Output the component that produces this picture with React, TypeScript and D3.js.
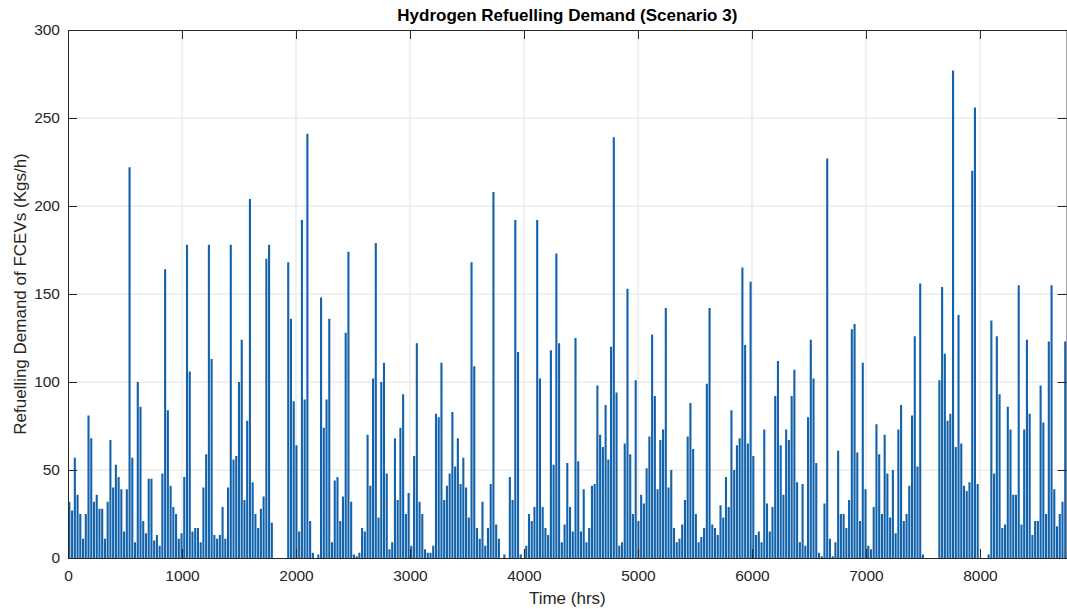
import React, { useEffect, useRef } from 'react';
import * as d3 from 'd3';

// daily peak refuelling demand (Kgs/h), one value per day
const jan = [32, 27, 57, 36, 25, 11, 25, 81, 68, 32, 36, 28, 28, 11, 32, 67, 40, 53, 46, 39, 15, 39, 222, 57, 9, 100, 86, 21, 14, 45, 45];
const feb = [10, 13, 7, 48, 164, 84, 41, 29, 25, 11, 14, 46, 178, 106, 15, 17, 17, 9, 40, 59, 178, 113, 13, 11, 13, 29, 11, 40];
const mar = [178, 56, 58, 100, 124, 33, 78, 204, 43, 25, 17, 28, 35, 170, 178, 20, 0, 0, 0, 0, 0, 168, 136, 89, 64, 15, 192, 90, 241, 21, 3];
const apr = [0, 2, 148, 74, 90, 136, 9, 44, 46, 21, 35, 128, 174, 32, 2, 1, 3, 17, 15, 70, 41, 102, 179, 23, 100, 111, 48, 5, 9, 68];
const may = [33, 74, 93, 25, 37, 7, 58, 122, 32, 25, 5, 3, 3, 7, 82, 80, 111, 33, 41, 48, 83, 52, 68, 42, 57, 40, 23, 168, 109, 17, 11];
const jun = [32, 7, 17, 42, 208, 19, 11, 0, 2, 0, 46, 33, 192, 117, 2, 0, 7, 25, 21, 29, 192, 102, 29, 17, 13, 118, 53, 173, 122, 9];
const jul = [19, 54, 29, 15, 125, 55, 15, 39, 9, 17, 41, 42, 98, 70, 63, 87, 56, 120, 239, 94, 7, 9, 65, 153, 59, 25, 101, 21, 36, 31, 51];
const aug = [69, 127, 92, 39, 67, 73, 142, 40, 50, 17, 9, 11, 19, 33, 69, 88, 62, 25, 9, 12, 17, 99, 142, 19, 17, 13, 30, 23, 46, 29, 84];
const sep = [50, 64, 68, 165, 121, 65, 157, 58, 13, 15, 9, 73, 31, 15, 29, 92, 112, 64, 36, 73, 67, 92, 107, 43, 9, 42, 7, 80, 124, 102];
const oct = [54, 3, 1, 31, 227, 11, 1, 9, 61, 25, 25, 17, 33, 130, 133, 60, 21, 111, 39, 7, 5, 29, 76, 59, 25, 70, 48, 23, 50, 14, 73];
const nov = [87, 21, 25, 41, 81, 126, 52, 156, 2, 0, 0, 0, 0, 0, 101, 154, 116, 78, 82, 277, 63, 138, 65, 41, 38, 43, 220, 256, 42, 0];
const dec = [0, 0, 2, 135, 48, 126, 93, 17, 19, 86, 73, 36, 36, 155, 19, 73, 124, 82, 13, 21, 21, 98, 77, 25, 123, 155, 39, 18, 25, 32, 123];

const xTicks = [0, 1000, 2000, 3000, 4000, 5000, 6000, 7000, 8000];
const yTicks = [0, 50, 100, 150, 200, 250, 300];

const FONT = "'Liberation Sans', Arial, Helvetica, sans-serif";
const AXIS = '#262626';

const App = () => {
  const svgRef = useRef<SVGSVGElement>(null);

  useEffect(() => {
    const width = 1067;
    const height = 609;
    const left = 68, top = 30, right = 1066.6, bottom = 558;

    const svg = d3.select(svgRef.current);
    svg.selectAll('*').remove();
    svg.attr('width', width).attr('height', height);

    const x = d3.scaleLinear().domain([0, 8760]).range([left, right]);
    const y = d3.scaleLinear().domain([0, 300]).range([bottom, top]);

    const demand = [jan, feb, mar, apr, may, jun, jul, aug, sep, oct, nov, dec].flat();

    svg.append('rect').attr('width', width).attr('height', height).attr('fill', '#fff');

    // grid
    const grid = svg.append('g').attr('stroke', '#e2e2e2').attr('stroke-width', 1);
    xTicks.slice(1).forEach(t => {
      grid.append('line').attr('x1', x(t)).attr('x2', x(t)).attr('y1', top).attr('y2', bottom);
    });
    yTicks.slice(1, -1).forEach(t => {
      grid.append('line').attr('x1', left).attr('x2', right).attr('y1', y(t)).attr('y2', y(t));
    });

    // demand trace: one stem per day from 0 up to the day's peak
    const p = d3.path();
    demand.forEach((v, d) => {
      const h = d * 24 + 12;
      p.moveTo(x(h), y(0));
      p.lineTo(x(h), y(v));
    });
    svg.append('path')
      .attr('d', p.toString())
      .attr('fill', 'none')
      .attr('stroke', '#1363ac')
      .attr('stroke-width', 2.1);

    // axes, MATLAB style: box with inward ticks on all sides
    const styleAxis = (g: any) => {
      g.selectAll('path.domain').attr('stroke', AXIS).attr('stroke-width', 1);
      g.selectAll('.tick line').attr('stroke', AXIS).attr('stroke-width', 1);
      g.selectAll('.tick text').attr('fill', AXIS).style('font-family', FONT).style('font-size', '15.5px');
    };

    svg.append('g')
      .attr('transform', `translate(0,${bottom})`)
      .call(d3.axisBottom(x).tickValues(xTicks).tickFormat(d3.format('d')).tickSize(-9).tickSizeOuter(0).tickPadding(12))
      .call(styleAxis);
    svg.append('g')
      .attr('transform', `translate(0,${top})`)
      .call(d3.axisTop(x).tickValues(xTicks).tickFormat(() => '').tickSize(-9).tickSizeOuter(0))
      .call(styleAxis);
    svg.append('g')
      .attr('transform', `translate(${left},0)`)
      .call(d3.axisLeft(y).tickValues(yTicks).tickFormat(d3.format('d')).tickSize(-9).tickSizeOuter(0).tickPadding(8))
      .call(styleAxis);
    svg.append('g')
      .attr('transform', `translate(${right},0)`)
      .call(d3.axisRight(y).tickValues(yTicks).tickFormat(() => '').tickSize(-9).tickSizeOuter(0))
      .call(styleAxis);

    // title and axis labels
    svg.append('text')
      .attr('x', (left + right) / 2)
      .attr('y', 21)
      .attr('text-anchor', 'middle')
      .style('font-family', FONT)
      .style('font-size', '17px')
      .style('font-weight', 'bold')
      .attr('fill', '#000')
      .text('Hydrogen Refuelling Demand (Scenario 3)');

    svg.append('text')
      .attr('x', (left + right) / 2)
      .attr('y', 604)
      .attr('text-anchor', 'middle')
      .style('font-family', FONT)
      .style('font-size', '17px')
      .attr('fill', AXIS)
      .text('Time (hrs)');

    svg.append('text')
      .attr('transform', `translate(26,${(top + bottom) / 2}) rotate(-90)`)
      .attr('text-anchor', 'middle')
      .style('font-family', FONT)
      .style('font-size', '17px')
      .attr('fill', AXIS)
      .text('Refuelling Demand of FCEVs (Kgs/h)');
  }, []);

  return <svg ref={svgRef} style={{ position: 'absolute', left: 0, top: 0, display: 'block' }}></svg>;
};

export default App;
